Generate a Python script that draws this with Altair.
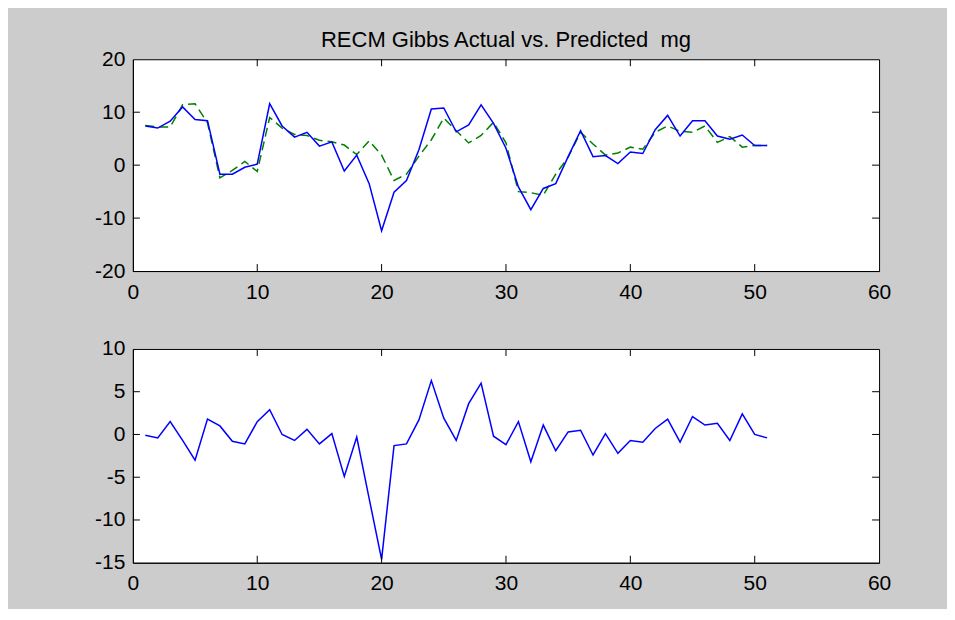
import altair as alt
import pandas as pd

# ---- data ----
x_vals = list(range(1, 52))
actual = [7.4, 7.0, 8.3, 11.0, 8.6, 8.4, -1.7, -1.7, -0.4, 0.2,
          11.6, 7.4, 5.3, 6.2, 3.6, 4.4, -1.1, 1.9, -3.5, -12.4,
          -5.1, -2.9, 2.9, 10.6, 10.8, 6.3, 7.6, 11.4, 7.9, 3.2,
          -4.1, -8.4, -4.4, -3.5, 1.6, 6.5, 1.6, 1.8, 0.3, 2.5,
          2.2, 6.7, 9.4, 5.5, 8.4, 8.4, 5.5, 4.9, 5.7, 3.7, 3.7]
predicted = [7.5, 7.2, 7.2, 11.4, 11.6, 8.0, -2.4, -1.0, 0.7, -1.2,
             9.0, 7.0, 5.8, 5.6, 4.7, 4.4, 3.8, 2.0, 4.6, 1.9,
             -2.9, -1.7, 1.7, 4.8, 8.9, 6.5, 4.2, 5.6, 8.1, 4.2,
             -5.0, -5.2, -5.7, -1.7, 1.5, 6.2, 4.0, 1.9, 2.3, 3.4,
             3.0, 6.2, 7.4, 6.4, 6.2, 7.4, 4.3, 5.4, 3.4, 3.7, 3.7]
residual = [-0.1, -0.4, 1.5, -0.7, -3.0, 1.8, 1.0, -0.8, -1.1, 1.5,
            2.9, 0.0, -0.7, 0.6, -1.1, 0.1, -4.9, -0.3, -7.5, -14.6,
            -1.3, -1.1, 1.7, 6.3, 1.9, -0.7, 3.6, 6.0, -0.2, -1.2,
            1.5, -3.2, 1.1, -1.9, 0.3, 0.5, -2.4, 0.1, -2.2, -0.7,
            -0.9, 0.7, 1.8, -0.9, 2.1, 1.1, 1.3, -0.7, 2.4, 0.0, -0.4]
x_ticks = [0, 10, 20, 30, 40, 50, 60]
top_y_ticks = [-20, -10, 0, 10, 20]
bottom_y_ticks = [-15, -10, -5, 0, 5, 10]
title_text = "RECM Gibbs Actual vs. Predicted\u00a0 mg"

W = 747
H1 = 212
H2 = 214
FONT = "Liberation Sans"
FS = 21
TL = 7  # inward tick length

top_df = pd.DataFrame({"x": x_vals, "actual": actual, "predicted": predicted})
bot_df = pd.DataFrame({"x": x_vals, "residual": residual})
xt_df = pd.DataFrame({"t": x_ticks[1:-1]})

xscale = alt.Scale(domain=[x_ticks[0], x_ticks[-1]], nice=False, zero=False)


def x_axis():
    return alt.Axis(values=x_ticks, title=None, ticks=False, grid=False,
                    labelPadding=10, labelFontSize=FS, labelFont=FONT,
                    labelColor="black", domainColor="black", labelFlush=False,
                    labelExpr="'' + datum.value")


def y_axis(vals):
    return alt.Axis(values=vals, title=None, ticks=False, grid=False,
                    labelPadding=8, labelFontSize=FS, labelFont=FONT,
                    labelColor="black", domainColor="black", labelFlush=False,
                    labelExpr="'' + datum.value")


def tick_layers(yvals, yscale, H):
    yt_df = pd.DataFrame({"v": yvals[1:-1]})
    xb = alt.Chart(xt_df).mark_rule(color="black", strokeWidth=1).encode(
        x=alt.X("t:Q", scale=xscale, axis=x_axis()), y=alt.value(H), y2=alt.value(H - TL))
    xtp = alt.Chart(xt_df).mark_rule(color="black", strokeWidth=1).encode(
        x=alt.X("t:Q", scale=xscale, axis=x_axis()), y=alt.value(0), y2=alt.value(TL))
    yl = alt.Chart(yt_df).mark_rule(color="black", strokeWidth=1).encode(
        y=alt.Y("v:Q", scale=yscale, axis=y_axis(yvals)), x=alt.value(0), x2=alt.value(TL))
    yr = alt.Chart(yt_df).mark_rule(color="black", strokeWidth=1).encode(
        y=alt.Y("v:Q", scale=yscale, axis=y_axis(yvals)), x=alt.value(W), x2=alt.value(W - TL))
    return [xb, xtp, yl, yr]


yscale_top = alt.Scale(domain=[top_y_ticks[0], top_y_ticks[-1]], nice=False, zero=False)
yscale_bot = alt.Scale(domain=[bottom_y_ticks[0], bottom_y_ticks[-1]], nice=False, zero=False)

act_line = alt.Chart(top_df).mark_line(color="#0000ff", strokeWidth=1.5).encode(
    x=alt.X("x:Q", scale=xscale, axis=x_axis()),
    y=alt.Y("actual:Q", scale=yscale_top, axis=y_axis(top_y_ticks)),
)
pred_line = alt.Chart(top_df).mark_line(color="#008000", strokeWidth=1.5,
                                        strokeDash=[9, 5]).encode(
    x=alt.X("x:Q", scale=xscale, axis=x_axis()),
    y=alt.Y("predicted:Q", scale=yscale_top, axis=y_axis(top_y_ticks)),
)

top = alt.layer(pred_line, act_line, *tick_layers(top_y_ticks, yscale_top, H1)).properties(
    width=W, height=H1,
    title=alt.TitleParams(title_text, anchor="middle", frame="group", font=FONT,
                          fontSize=22, fontWeight="normal", color="black", offset=-4),
)

res_line = alt.Chart(bot_df).mark_line(color="#0000ff", strokeWidth=1.5).encode(
    x=alt.X("x:Q", scale=xscale, axis=x_axis()),
    y=alt.Y("residual:Q", scale=yscale_bot, axis=y_axis(bottom_y_ticks)),
)
bottom = alt.layer(res_line, *tick_layers(bottom_y_ticks, yscale_bot, H2)).properties(
    width=W, height=H2,
)

chart = alt.vconcat(top, bottom, spacing=34).properties(
    background="#cccccc",
    padding={"left": 86, "top": 20, "right": 55, "bottom": 14},
).configure_view(
    stroke="black", strokeWidth=1, fill="white"
).configure_axis(
    domainWidth=1
)

chart.save("out.html", embed_options={"renderer": "svg", "actions": False})
